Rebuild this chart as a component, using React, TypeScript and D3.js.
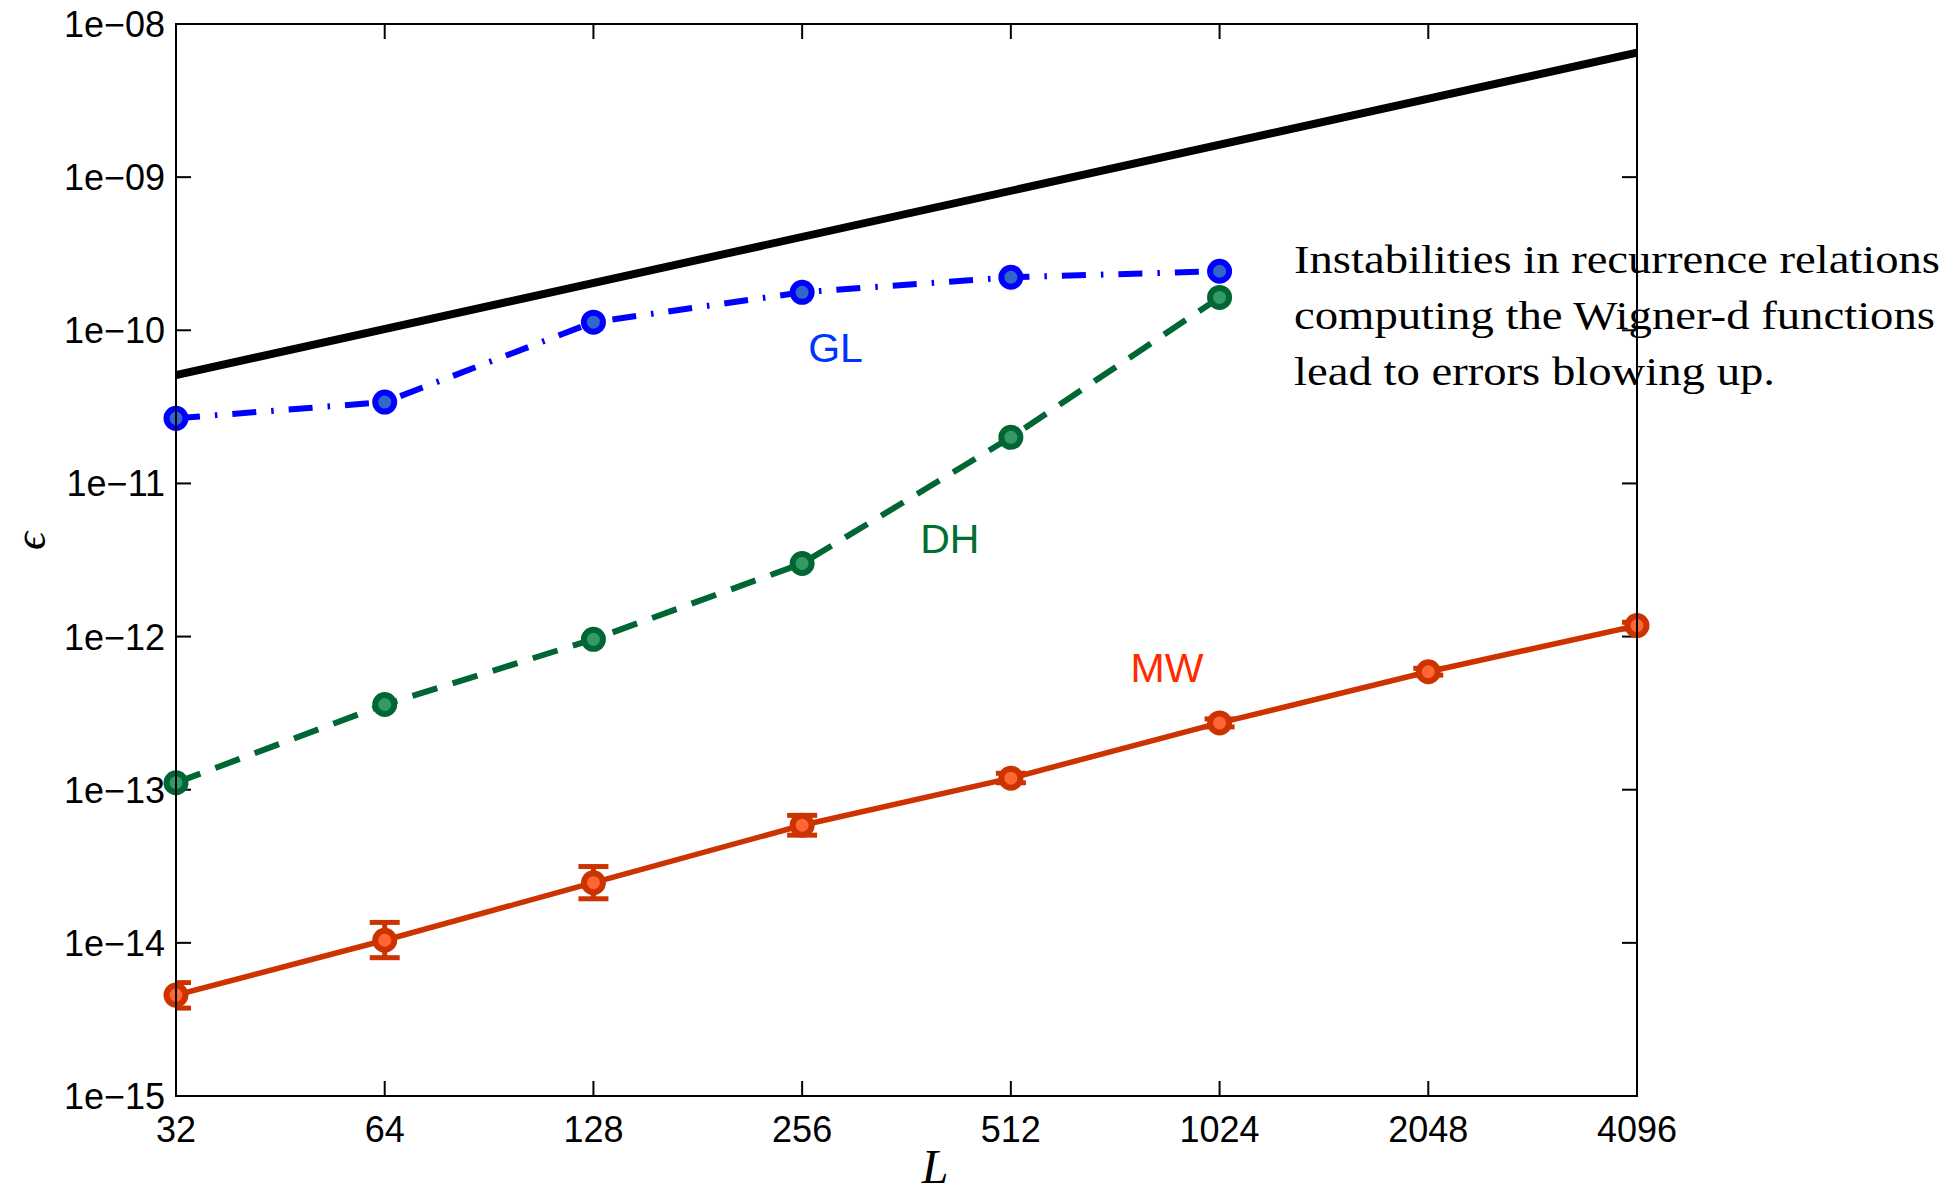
import React from 'react';
import * as d3 from 'd3';

// band limits L
const bandLimits = [32, 64, 128, 256, 512, 1024, 2048, 4096];
const xTickLabels = ['32', '64', '128', '256', '512', '1024', '2048', '4096'];
const yTickValues = [1e-8, 1e-9, 1e-10, 1e-11, 1e-12, 1e-13, 1e-14, 1e-15];
const yTickLabels = ['1e−08', '1e−09', '1e−10', '1e−11', '1e−12', '1e−13', '1e−14', '1e−15'];

// reference scaling line (~ L)
const refL = [32, 4096];
const refErr = [5.1e-11, 6.5e-9];

// GL (Gauss-Legendre)
const glL = [32, 64, 128, 256, 512, 1024];
const glErr = [2.66e-11, 3.4e-11, 1.13e-10, 1.77e-10, 2.22e-10, 2.43e-10];

// DH (Driscoll-Healy)
const dhL = [32, 64, 128, 256, 512, 1024];
const dhErr = [1.11e-13, 3.6e-13, 9.6e-13, 3.0e-12, 2.0e-11, 1.64e-10];

// MW (McEwen-Wiaux) with error bars
const mwL = [32, 64, 128, 256, 512, 1024, 2048, 4096];
const mwErr = [4.56e-15, 1.04e-14, 2.47e-14, 5.86e-14, 1.19e-13, 2.73e-13, 5.89e-13, 1.18e-12];
const mwLo = [3.75e-15, 8.0e-15, 1.94e-14, 5.05e-14, 1.11e-13, 2.57e-13, 5.6e-13, 1.12e-12];
const mwHi = [5.5e-15, 1.36e-14, 3.15e-14, 6.8e-14, 1.28e-13, 2.9e-13, 6.2e-13, 1.24e-12];

const annotation = [
  'Instabilities in recurrence relations',
  'computing the Wigner-d functions',
  'lead to errors blowing up.',
];
const annotationWidths = [646, 641, 481];

const W = 1960;
const H = 1194;
const margin = { left: 176, right: 323, top: 24, bottom: 98 };

export default function App() {
  const innerW = W - margin.left - margin.right;
  const innerH = H - margin.top - margin.bottom;

  const x = d3.scaleLog().base(2).domain([32, 4096]).range([0, innerW]);
  const y = d3.scaleLog().domain([1e-15, 1e-8]).range([innerH, 0]);

  const line = d3.line<[number, number]>()
    .x(d => x(d[0]))
    .y(d => y(d[1]));

  const zip = (a: number[], b: number[]) => a.map((v, i) => [v, b[i]] as [number, number]);

  const tickFont = "'Liberation Sans', Arial, Helvetica, sans-serif";
  const serif = "'Liberation Serif', 'Times New Roman', serif";
  const tickLen = 15;

  return (
    <div style={{ position: 'absolute', left: 0, top: 0 }}>
      <svg width={W} height={H} style={{ display: 'block', background: '#fff' }}>
        <defs>
          <clipPath id="plot-clip">
            <rect x={0} y={0} width={innerW} height={innerH} />
          </clipPath>
        </defs>
        <g transform={`translate(${margin.left},${margin.top})`}>
          {/* ticks */}
          {bandLimits.map((v, i) => (
            <g key={'xt' + i}>
              <line x1={x(v)} x2={x(v)} y1={innerH} y2={innerH - tickLen} stroke="#000" strokeWidth={2} />
              <line x1={x(v)} x2={x(v)} y1={0} y2={tickLen} stroke="#000" strokeWidth={2} />
              <text x={x(v)} y={innerH + 46} textAnchor="middle" fontFamily={tickFont} fontSize={36}>
                {xTickLabels[i]}
              </text>
            </g>
          ))}
          {yTickValues.map((v, i) => (
            <g key={'yt' + i}>
              <line x1={0} x2={tickLen} y1={y(v)} y2={y(v)} stroke="#000" strokeWidth={2} />
              <line x1={innerW} x2={innerW - tickLen} y1={y(v)} y2={y(v)} stroke="#000" strokeWidth={2} />
              <text x={-11} y={y(v) + 13} textAnchor="end" fontFamily={tickFont} fontSize={36}>
                {yTickLabels[i]}
              </text>
            </g>
          ))}

          <g clipPath="url(#plot-clip)">
            {/* reference line */}
            <path d={line(zip(refL, refErr)) || ''} fill="none" stroke="#000" strokeWidth={8} />

            {/* GL */}
            <path d={line(zip(glL, glErr)) || ''} fill="none" stroke="#0000ff" strokeWidth={6}
              strokeDasharray="24,15,2.5,15" />
            {/* DH */}
            <path d={line(zip(dhL, dhErr)) || ''} fill="none" stroke="#006633" strokeWidth={6}
              strokeDasharray="26,16" />
            {/* MW error bars */}
            {mwL.map((v, i) => (
              <g key={'eb' + i} stroke="#cc3300" strokeWidth={5}>
                <line x1={x(v)} x2={x(v)} y1={y(mwLo[i])} y2={y(mwHi[i])} />
                <line x1={x(v) - 15} x2={x(v) + 15} y1={y(mwLo[i])} y2={y(mwLo[i])} />
                <line x1={x(v) - 15} x2={x(v) + 15} y1={y(mwHi[i])} y2={y(mwHi[i])} />
              </g>
            ))}
            <path d={line(zip(mwL, mwErr)) || ''} fill="none" stroke="#cc3300" strokeWidth={5.5} />
          </g>

          {/* markers */}
          {glL.map((v, i) => (
            <circle key={'gm' + i} cx={x(v)} cy={y(glErr[i])} r={9.5} fill="#3366cc" stroke="#0000ff" strokeWidth={6} />
          ))}
          {dhL.map((v, i) => (
            <circle key={'dm' + i} cx={x(v)} cy={y(dhErr[i])} r={9.5} fill="#339966" stroke="#006633" strokeWidth={6} />
          ))}
          {mwL.map((v, i) => (
            <circle key={'mm' + i} cx={x(v)} cy={y(mwErr[i])} r={9.5} fill="#ff6633" stroke="#cc3300" strokeWidth={6} />
          ))}

          {/* axis box */}
          <rect x={0} y={0} width={innerW} height={innerH} fill="none" stroke="#000" strokeWidth={2} />

          {/* series labels */}
          <text x={x(256) + 6} y={y(1e-10) + 32} fontFamily={tickFont} fontSize={41} fill="#0033ff">GL</text>
          <text x={x(256) + 118} y={y(1e-11) + 70} fontFamily={tickFont} fontSize={41} fill="#007030">DH</text>
          <text x={x(1024) - 89} y={y(1e-12) + 45} fontFamily={tickFont} fontSize={41} fill="#ff2a00">MW</text>

          {/* annotation */}
          {annotation.map((t, i) => (
            <text key={'an' + i} x={1294 - margin.left} y={249 + i * 56} fontFamily={serif}
              fontSize={40} textLength={annotationWidths[i]} lengthAdjust="spacingAndGlyphs" fill="#000">
              {t}
            </text>
          ))}
        </g>

        {/* axis titles */}
        <text x={935} y={1183} textAnchor="middle" fontFamily={serif}
          fontStyle="italic" fontSize={48}>L</text>
        <text transform="translate(45,541) rotate(-90)" textAnchor="middle"
          fontFamily={serif} fontStyle="italic" fontSize={45}>ϵ</text>
      </svg>
    </div>
  );
}
